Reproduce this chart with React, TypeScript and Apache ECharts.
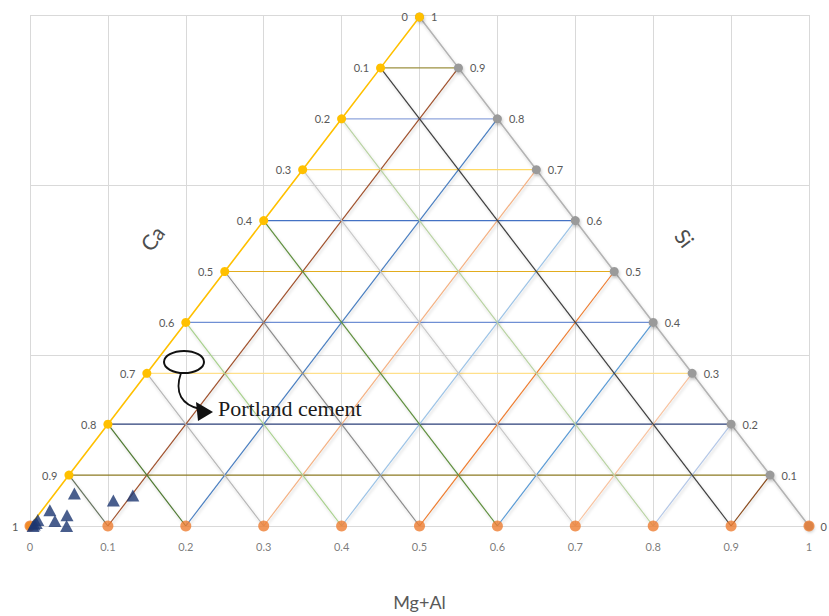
import React, { useEffect, useRef } from "react";
import * as echarts from "echarts";

// Tick values along each side of the ternary diagram
const TICKS = [0, 0.1, 0.2, 0.3, 0.4, 0.5, 0.6, 0.7, 0.8, 0.9, 1];
// Interior grid levels
const LEVELS = [0.1, 0.2, 0.3, 0.4, 0.5, 0.6, 0.7, 0.8, 0.9];

// Sample compositions (fractions of Ca, Si, Mg+Al)
const SAMPLE_CA = [0.911, 0.868, 0.838, 0.959, 0.942, 0.963, 0.953, 0.984, 0.996, 0.989, 0.993];
const SAMPLE_SI = [0.064, 0.05, 0.06, 0.031, 0.021, 0.01, 0.0, 0.012, 0.0, 0.006, 0.003];
const SAMPLE_MGAL = [0.025, 0.082, 0.102, 0.01, 0.037, 0.027, 0.047, 0.004, 0.004, 0.005, 0.004];

// Line colours for each family of grid lines (index matches LEVELS)
const HORIZ_COLORS = ["#9c9140", "#8fa5dc", "#ffd966", "#4472c4", "#e2ac1e", "#6f8fd4", "#ffe08a", "#2b3f78", "#8c7a22"];
const UPRIGHT_COLORS = ["#a0522d", "#4a7fc0", "#f4b183", "#9dc3e6", "#ed7d31", "#5b9bd5", "#f8c3a0", "#b4c7e7", "#8a4a1c"];
const UPLEFT_COLORS = ["#66735f", "#4f7a32", "#b7b7b7", "#a9d18e", "#8c8c8c", "#5f8f3e", "#c9c9c9", "#b9d3a3", "#3f3f3f"];

// Triangle height in y-axis units
const TRI_H = 0.8965;
const LABEL_FONT = "Lato, 'Open Sans', sans-serif";

function tern(ca: number, si: number, mg: number): [number, number] {
  void ca;
  return [mg + si / 2, si * TRI_H];
}

const shadow = {
  shadowColor: "rgba(0,0,0,0.18)",
  shadowBlur: 3,
  shadowOffsetX: 1,
  shadowOffsetY: 2,
};

function segment(id: string, a: [number, number], b: [number, number], color: string, withShadow: boolean) {
  return {
    id,
    type: "line",
    data: [a, b],
    showSymbol: false,
    symbol: "none",
    silent: true,
    z: 2,
    lineStyle: withShadow ? { color, width: 1.2, ...shadow } : { color, width: 1.2 },
  };
}

export default function App() {
  const ref = useRef<HTMLDivElement>(null);

  useEffect(() => {
    if (!ref.current) return;
    const chart = echarts.init(ref.current, null, { renderer: "svg" });

    const gridSeries: any[] = [];
    LEVELS.forEach((c, i) => {
      gridSeries.push(segment("h" + i, tern(c, 1 - c, 0), tern(0, 1 - c, c), HORIZ_COLORS[i], false));
    });
    LEVELS.forEach((m, i) => {
      gridSeries.push(segment("ur" + i, tern(1 - m, 0, m), tern(0, 1 - m, m), UPRIGHT_COLORS[i], true));
    });
    LEVELS.forEach((m, i) => {
      gridSeries.push(segment("ul" + i, tern(1 - m, 0, m), tern(1 - m, m, 0), UPLEFT_COLORS[i], true));
    });

    const tickLabel = (pos: string, dist: number) => ({
      show: true,
      position: pos,
      distance: dist,
      fontFamily: LABEL_FONT,
      fontSize: 11,
      color: "#595959",
      formatter: (p: any) => String(TICKS[p.dataIndex]),
    });

    chart.setOption({
      animation: false,
      grid: { left: 30, right: 20, top: 15, bottom: 83 },
      xAxis: {
        type: "value",
        min: 0,
        max: 1,
        interval: 0.1,
        axisLine: { show: true, lineStyle: { color: "#d9d9d9", width: 1 } },
        axisTick: { show: false },
        axisLabel: { show: false },
        splitLine: { show: true, lineStyle: { color: "#d9d9d9", width: 1 } },
        name: "Mg+Al",
        nameLocation: "middle",
        nameGap: 67,
        nameTextStyle: { fontFamily: LABEL_FONT, fontSize: 18, color: "#595959" },
      },
      yAxis: {
        type: "value",
        min: 0,
        max: 0.9,
        interval: 0.3,
        axisLine: { show: false },
        axisTick: { show: false },
        axisLabel: { show: false },
        splitLine: { show: true, lineStyle: { color: "#d9d9d9", width: 1 } },
      },
      series: [
        ...gridSeries,
        {
          id: "siSide",
          type: "line",
          data: TICKS.map((s) => tern(0, s, 1 - s)),
          symbol: "circle",
          symbolSize: 9,
          z: 4,
          itemStyle: { color: "#9a9a9a", ...shadow },
          lineStyle: { color: "#b3b3b3", width: 1.6, ...shadow },
          label: tickLabel("right", 7),
        },
        {
          id: "caSide",
          type: "line",
          data: TICKS.map((c) => tern(c, 1 - c, 0)),
          symbol: "circle",
          symbolSize: 9,
          z: 5,
          itemStyle: { color: "#ffc000" },
          lineStyle: { color: "#ffc000", width: 1.6 },
          label: tickLabel("left", 7),
        },
        {
          id: "mgalSide",
          type: "scatter",
          data: TICKS.map((m) => tern(1 - m, 0, m)),
          symbol: "circle",
          symbolSize: 11,
          z: 5,
          itemStyle: { color: "#ed7d31" },
          label: tickLabel("bottom", 9),
        },
        {
          id: "samples",
          type: "scatter",
          data: SAMPLE_CA.map((ca, i) => tern(ca, SAMPLE_SI[i], SAMPLE_MGAL[i])),
          symbol: "triangle",
          symbolSize: [13, 12],
          z: 6,
          itemStyle: { color: "#1c3670" },
        },
      ],
      graphic: [
        {
          type: "text",
          x: 152,
          y: 238,
          rotation: (53 * Math.PI) / 180,
          style: {
            text: "Ca",
            fontFamily: LABEL_FONT,
            fontSize: 21,
            fill: "#4d4d4d",
            align: "center",
            verticalAlign: "middle",
          },
        },
        {
          type: "text",
          x: 685,
          y: 238,
          rotation: (-53 * Math.PI) / 180,
          style: {
            text: "Si",
            fontFamily: LABEL_FONT,
            fontSize: 21,
            fill: "#4d4d4d",
            align: "center",
            verticalAlign: "middle",
          },
        },
        {
          type: "ellipse",
          shape: { cx: 184, cy: 362, rx: 20, ry: 11 },
          style: { fill: "none", stroke: "#111", lineWidth: 2 },
          z: 10,
        },
        {
          type: "bezierCurve",
          shape: { x1: 181, y1: 373, cpx1: 174, cpy1: 393, cpx2: 182, cpy2: 405, x2: 200, y2: 409 },
          style: { fill: "none", stroke: "#111", lineWidth: 1.8 },
          z: 10,
        },
        {
          type: "polygon",
          shape: { points: [[213, 412], [196, 402], [198, 421]] },
          style: { fill: "#111" },
          z: 10,
        },
        {
          type: "text",
          x: 218,
          y: 408,
          style: {
            text: "Portland cement",
            fontFamily: "'Liberation Serif', 'Times New Roman', serif",
            fontSize: 22,
            fill: "#1a1a1a",
            verticalAlign: "middle",
          },
          z: 10,
        },
      ],
    });

    return () => chart.dispose();
  }, []);

  return (
    <div
      ref={ref}
      style={{ position: "fixed", left: 0, top: 0, width: 829, height: 616, background: "#fff" }}
    />
  );
}
